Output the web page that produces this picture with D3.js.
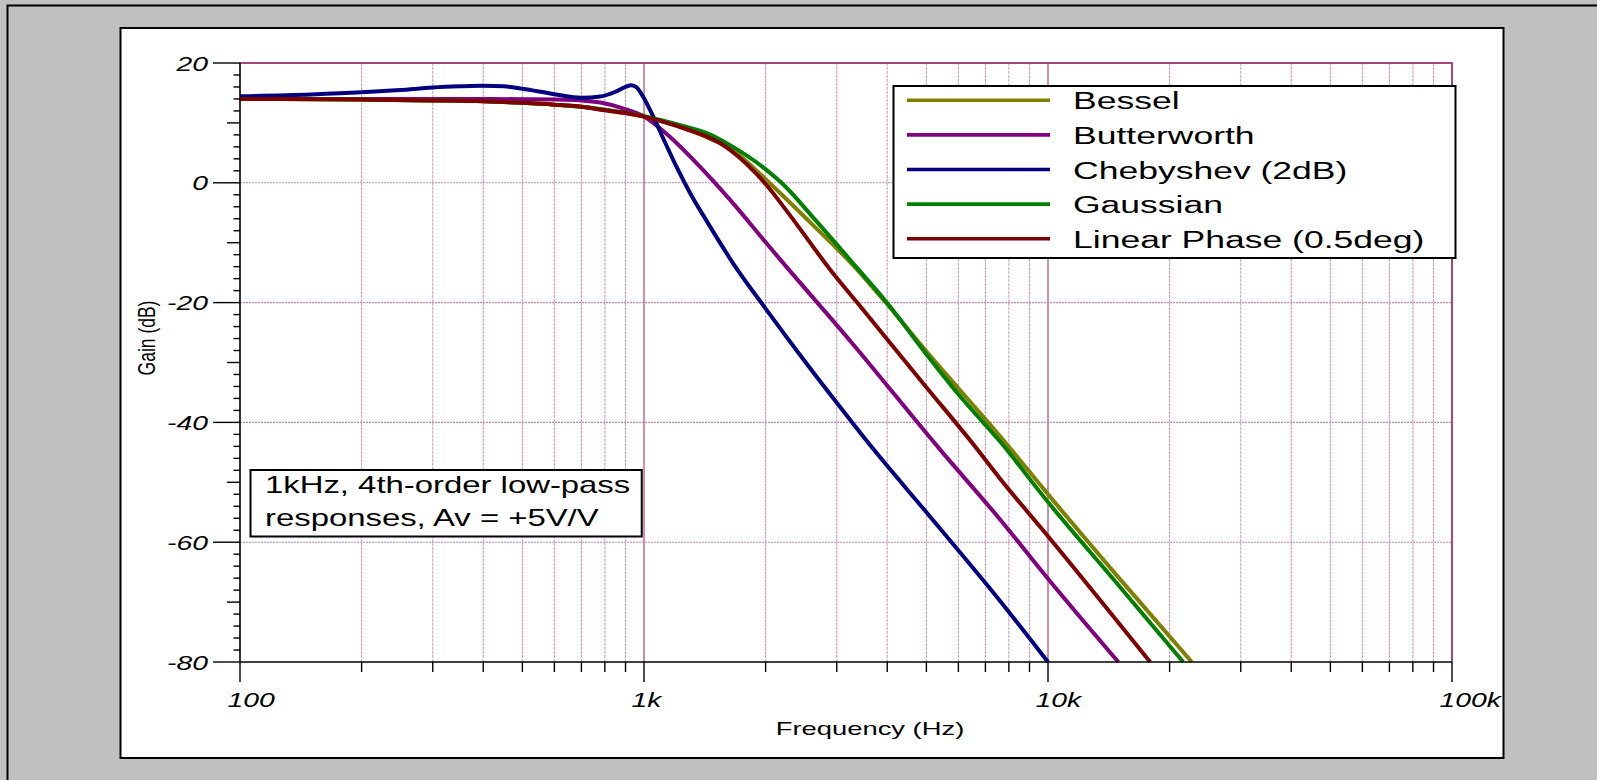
<!DOCTYPE html>
<html>
<head>
<meta charset="utf-8">
<script src="https://cdn.jsdelivr.net/npm/d3@7"></script>
<style>
  html, body { margin: 0; padding: 0; background: #c0c0c0; }
  svg { display: block; }
  text { font-family: "Liberation Sans", Arial, sans-serif; fill: #000; }
</style>
</head>
<body>
<svg id="chart" width="1597" height="780"></svg>
<script>
// ---- series (frequency in Hz, gain in dB) ----
const seriesNames = ["Bessel", "Butterworth", "Chebyshev (2dB)", "Gaussian", "Linear Phase (0.5deg)"];
const seriesColors = ["#808000", "#800080", "#000080", "#008000", "#800000"];

const besselFreq = [100, 200, 300, 400, 500, 600, 700, 800, 900, 1000, 1140, 1280, 1430, 1660, 2000, 2250, 2670, 3360, 3990, 5010, 6000, 7610, 10000, 15000, 22690];
const besselGain = [14.0, 13.9, 13.75, 13.6, 13.35, 13.05, 12.7, 12.15, 11.65, 11.05, 10.0, 8.9, 7.6, 5.4, 0.6, -2.7, -7.6, -14.4, -20.2, -28.2, -34.3, -42.3, -52.0, -66.0, -80.0];

const butterFreq = [100, 200, 300, 400, 500, 600, 700, 780, 890, 1000, 1140, 1375, 1660, 2010, 2250, 3240, 5400, 7610, 10000, 14930];
const butterGain = [14.0, 14.0, 14.0, 14.0, 13.95, 13.9, 13.75, 13.4, 12.4, 11.05, 8.1, 2.7, -3.4, -10.1, -14.0, -26.4, -44.5, -56.2, -66.1, -80.0];

const chebyFreq = [100, 150, 200, 250, 300, 350, 400, 450, 500, 600, 700, 780, 850, 900, 930, 960, 980, 1000, 1055, 1116, 1205, 1300, 1430, 1660, 2000, 2500, 3240, 3700, 5000, 7610, 10000];
const chebyGain = [14.45, 14.75, 15.1, 15.5, 15.9, 16.1, 16.2, 16.1, 15.7, 14.8, 14.2, 14.4, 15.2, 16.0, 16.3, 15.9, 15.1, 14.1, 11.0, 7.4, 2.6, -1.7, -6.4, -13.4, -21.0, -29.8, -39.6, -44.5, -55.0, -69.8, -80.0];

const gaussFreq = [100, 200, 300, 400, 500, 600, 700, 800, 900, 1000, 1140, 1280, 1430, 1660, 1980, 2190, 2670, 3240, 3990, 5010, 6000, 7610, 10000, 15000, 21600];
const gaussGain = [14.0, 13.9, 13.75, 13.6, 13.35, 13.05, 12.7, 12.2, 11.7, 11.1, 10.2, 9.3, 8.3, 6.0, 2.5, 0.0, -6.4, -12.9, -20.0, -28.7, -35.3, -43.2, -53.3, -67.3, -80.0];

const linphFreq = [100, 200, 300, 400, 500, 600, 700, 800, 900, 1000, 1140, 1280, 1430, 1545, 1660, 1790, 2000, 2250, 2890, 3370, 5010, 6540, 7610, 10000, 17900];
const linphGain = [14.0, 13.9, 13.75, 13.6, 13.35, 13.05, 12.7, 12.1, 11.65, 11.05, 10.0, 8.9, 7.7, 6.6, 5.1, 3.2, -0.2, -4.6, -14.5, -20.0, -34.2, -43.7, -49.4, -59.0, -80.0];

// ---- axes ----
const yTickValues = [20, 0, -20, -40, -60, -80];
const xTickValues = [100, 1000, 10000, 100000];
const xTickLabels = ["100", "1k", "10k", "100k"];
const xTitle = "Frequency (Hz)";
const yTitle = "Gain (dB)";
const noteLines = ["1kHz, 4th-order low-pass", "responses, Av = +5V/V"];

const seriesFreqs = [besselFreq, butterFreq, chebyFreq, gaussFreq, linphFreq];
const seriesGains = [besselGain, butterGain, chebyGain, gaussGain, linphGain];

// ---- layout ----
const svg = d3.select("#chart");
const plot = { left: 240, right: 1452, top: 63, bottom: 662 };
const FRAME = "#a8457a";

const x = d3.scaleLog().domain([100, 100000]).range([plot.left, plot.right]);
const y = d3.scaleLinear().domain([-80, 20]).range([plot.bottom, plot.top]);

// horizontally widened text, as the plotter renders it
function wideText(parent, px, py, str, size, sx, anchor, extra) {
  return parent.append("text")
    .attr("transform", `translate(${px},${py}) scale(${sx},1)` + (extra || ""))
    .attr("text-anchor", anchor || "start")
    .style("font-size", size + "px")
    .text(str);
}

// outer window frame
svg.append("rect").attr("x", 0).attr("y", 0).attr("width", 1597).attr("height", 780).attr("fill", "#c0c0c0");
svg.append("path").attr("d", "M7.5,780 V5.5 H1597").attr("fill", "none").attr("stroke", "#000").attr("stroke-width", 2);

// white chart panel
svg.append("rect").attr("x", 120.5).attr("y", 28).attr("width", 1383).attr("height", 730)
  .attr("fill", "#fff").attr("stroke", "#000").attr("stroke-width", 2);

// ---- grid ----
const grid = svg.append("g");
const decades = [100, 1000, 10000];
const minorFreqs = [];
decades.forEach(d => d3.range(2, 10).forEach(k => minorFreqs.push(k * d)));

grid.selectAll("line.minor").data(minorFreqs).join("line")
  .attr("x1", d => x(d)).attr("x2", d => x(d))
  .attr("y1", plot.top).attr("y2", plot.bottom)
  .attr("stroke", "#d69cbd").attr("stroke-width", 1.1)
  .attr("stroke-dasharray", "3,1");

grid.selectAll("line.decade").data([1000, 10000]).join("line")
  .attr("x1", d => x(d)).attr("x2", d => x(d))
  .attr("y1", plot.top).attr("y2", plot.bottom)
  .attr("stroke", FRAME).attr("stroke-width", 1.2);

grid.selectAll("line.h").data([0, -20, -40, -60]).join("line")
  .attr("x1", plot.left).attr("x2", plot.right)
  .attr("y1", d => y(d)).attr("y2", d => y(d))
  .attr("stroke", "#cc86ac").attr("stroke-width", 1.1)
  .attr("stroke-dasharray", "2,1");

// plot frame (top and right edges)
svg.append("path")
  .attr("d", `M${plot.left},${plot.top} H${plot.right} V${plot.bottom}`)
  .attr("fill", "none").attr("stroke", FRAME).attr("stroke-width", 2);

// ---- curves ----
svg.append("clipPath").attr("id", "plotClip").append("rect")
  .attr("x", plot.left).attr("y", plot.top - 4)
  .attr("width", plot.right - plot.left).attr("height", plot.bottom - plot.top + 6);

const line = d3.line().x(d => x(d[0])).y(d => y(d[1])).curve(d3.curveMonotoneX);
const curves = svg.append("g").attr("clip-path", "url(#plotClip)");
seriesNames.forEach((name, i) => {
  const pts = seriesFreqs[i].map((f, j) => [f, seriesGains[i][j]]);
  curves.append("path").datum(pts)
    .attr("d", line)
    .attr("fill", "none")
    .attr("stroke", seriesColors[i])
    .attr("stroke-width", 4)
    .attr("stroke-linejoin", "round")
    .attr("stroke-linecap", "butt");
});

// ---- axes ----
const axes = svg.append("g");
// y axis line and ticks
axes.append("line").attr("x1", plot.left).attr("x2", plot.left)
  .attr("y1", plot.top).attr("y2", plot.bottom).attr("stroke", "#000").attr("stroke-width", 1.6);
axes.selectAll("line.yt").data(d3.range(-80, 21, 2)).join("line")
  .attr("x1", d => plot.left - (d % 20 === 0 ? 27 : d % 10 === 0 ? 13 : 6.5))
  .attr("x2", plot.left)
  .attr("y1", d => y(d)).attr("y2", d => y(d))
  .attr("stroke", "#000").attr("stroke-width", 1.4);
yTickValues.forEach(v => {
  wideText(axes, 208, y(v) + 7.5, String(v), 21, 1.35, "end").style("font-style", "italic");
});

// x axis line and ticks
axes.append("line").attr("x1", plot.left).attr("x2", plot.right)
  .attr("y1", plot.bottom).attr("y2", plot.bottom).attr("stroke", "#000").attr("stroke-width", 1.6);
axes.selectAll("line.xm").data(minorFreqs).join("line")
  .attr("x1", d => x(d)).attr("x2", d => x(d))
  .attr("y1", plot.bottom).attr("y2", plot.bottom + 10)
  .attr("stroke", "#000").attr("stroke-width", 1.4);
axes.selectAll("line.xM").data(xTickValues).join("line")
  .attr("x1", d => x(d)).attr("x2", d => x(d))
  .attr("y1", plot.bottom).attr("y2", plot.bottom + 20)
  .attr("stroke", "#000").attr("stroke-width", 1.4);
xTickValues.forEach((v, i) => {
  wideText(axes, x(v) - 12.5, 707, xTickLabels[i], 21, 1.35, "start").style("font-style", "italic");
});

// axis titles
wideText(axes, 870, 735, xTitle, 18.5, 1.48, "middle");
svg.append("text")
  .attr("transform", "translate(155,338) scale(1.4,1) rotate(-90)")
  .attr("text-anchor", "middle")
  .style("font-size", "17.5px")
  .text(yTitle);

// ---- legend ----
const legend = svg.append("g");
legend.append("rect").attr("x", 893.5).attr("y", 86).attr("width", 562).attr("height", 172)
  .attr("fill", "#fff").attr("stroke", "#000").attr("stroke-width", 2);
seriesNames.forEach((name, i) => {
  const cy = 100.3 + i * 34.6;
  legend.append("line").attr("x1", 907).attr("x2", 1050).attr("y1", cy).attr("y2", cy)
    .attr("stroke", seriesColors[i]).attr("stroke-width", 3.6);
  wideText(legend, 1073, cy + 9, name, 24.5, 1.45, "start");
});

// ---- note box ----
const note = svg.append("g");
const noteBox = note.append("rect").attr("x", 250.5).attr("y", 470).attr("height", 66.5)
  .attr("fill", "#fff").attr("stroke", "#000").attr("stroke-width", 2);
const noteScale = 1.37;
const noteTexts = noteLines.map((s, i) => wideText(note, 265, 493.3 + i * 32.7, s, 24, noteScale, "start"));
const noteWidth = d3.max(noteTexts, t => t.node().getComputedTextLength() * noteScale);
noteBox.attr("width", noteWidth + 26);
</script>
</body>
</html>
